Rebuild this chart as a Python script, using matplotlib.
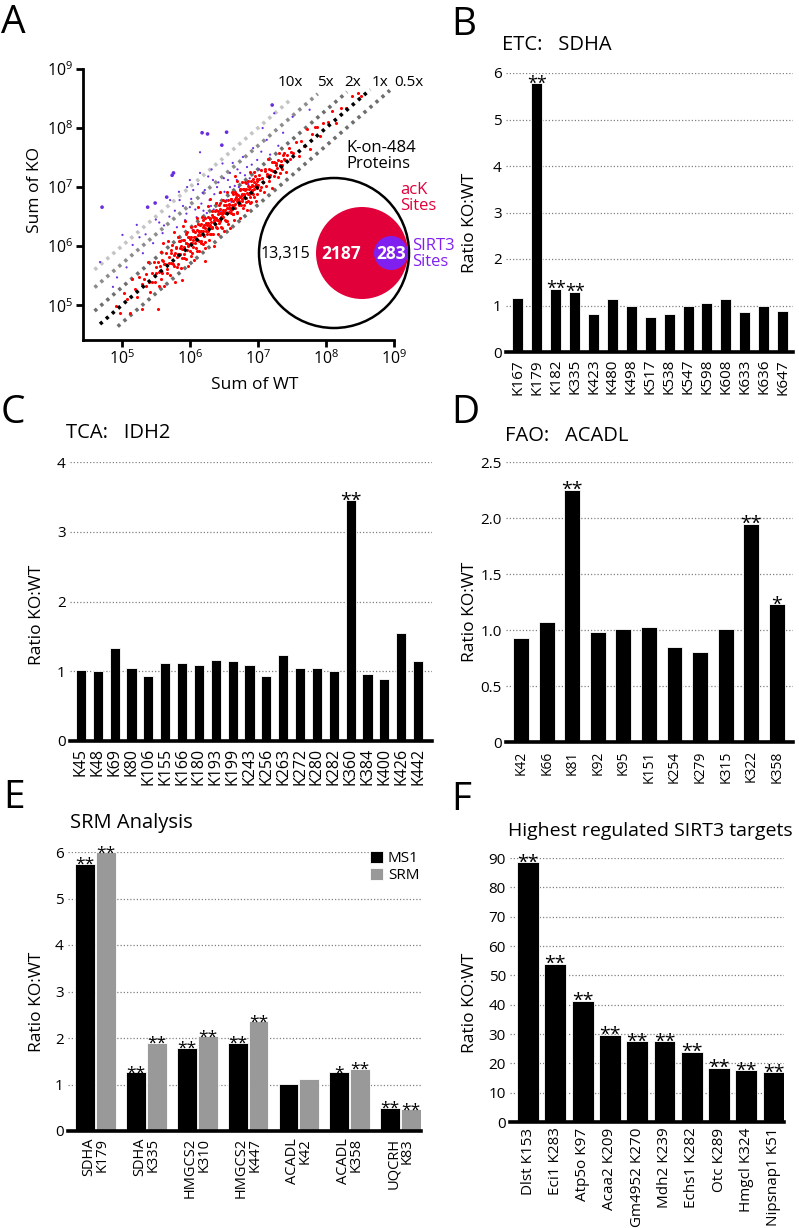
import numpy as np
import matplotlib
matplotlib.use("Agg")
import matplotlib.pyplot as plt
from matplotlib.patches import Circle

plt.rcParams['font.family'] = ['Open Sans', 'DejaVu Sans']
plt.rcParams['mathtext.fontset'] = 'custom'
plt.rcParams['mathtext.rm'] = 'Open Sans'

# ---- panel A: scatter (log10 sum of WT, log10 KO/WT offset) ----
red_pts = [
    (4.92, 0.06), (4.98, -0.12), (5.03, 0.18), (5.08, 0.02), (5.12, -0.25), (5.15, 0.30),
    (5.19, 0.08), (5.22, -0.08), (5.26, 0.22), (5.29, -0.35), (5.32, 0.12), (5.35, -0.02),
    (5.38, 0.35), (5.41, -0.18), (5.44, 0.10), (5.47, 0.26), (5.49, -0.10), (5.53, -0.60),
    (5.51, 0.04), (5.53, 0.20), (5.55, -0.22), (5.56, 0.10), (5.58, 0.32), (5.59, -0.05),
    (5.61, 0.14), (5.62, -0.30), (5.64, 0.06), (5.65, 0.24), (5.67, -0.12), (5.68, 0.40),
    (5.70, 0.02), (5.71, -0.20), (5.72, 0.16), (5.74, 0.28), (5.75, -0.06), (5.77, 0.08),
    (5.78, -0.38), (5.79, 0.20), (5.81, 0.00), (5.82, 0.34), (5.83, -0.14), (5.85, 0.12),
    (5.86, 0.22), (5.87, -0.24), (5.89, 0.06), (5.90, 0.44), (5.91, -0.04), (5.92, 0.18),
    (5.94, -0.16), (5.95, 0.10), (5.96, 0.28), (5.97, -0.30), (5.98, 0.02), (5.99, 0.16),
    (5.93, 0.50), (5.88, -0.45), (5.76, 0.48), (5.60, 0.45),
    (6.00, 0.12), (6.01, -0.18), (6.02, 0.30), (6.03, 0.02), (6.04, -0.06), (6.05, 0.22),
    (6.06, -0.30), (6.07, 0.08), (6.08, 0.16), (6.09, -0.12), (6.10, 0.38), (6.11, 0.00),
    (6.12, 0.26), (6.13, -0.22), (6.14, 0.10), (6.15, 0.04), (6.16, -0.08), (6.17, 0.20),
    (6.18, 0.32), (6.19, -0.15), (6.20, 0.06), (6.21, 0.14), (6.22, -0.26), (6.23, 0.24),
    (6.24, 0.02), (6.25, -0.04), (6.26, 0.42), (6.27, 0.12), (6.28, -0.18), (6.29, 0.18),
    (6.30, 0.06), (6.31, -0.10), (6.32, 0.28), (6.33, 0.00), (6.34, 0.15), (6.35, -0.34),
    (6.36, 0.08), (6.37, 0.22), (6.38, -0.06), (6.39, 0.34), (6.40, 0.04), (6.41, -0.20),
    (6.42, 0.12), (6.43, 0.26), (6.44, -0.02), (6.45, 0.18), (6.46, -0.14), (6.47, 0.08),
    (6.48, 0.30), (6.49, 0.00), (6.50, -0.24), (6.12, 0.55), (6.30, 0.50), (6.22, -0.48),
    (6.44, 0.48),
    (6.51, 0.10), (6.52, 0.24), (6.53, -0.10), (6.54, 0.02), (6.55, 0.36), (6.56, -0.18),
    (6.57, 0.14), (6.58, 0.06), (6.59, -0.28), (6.60, 0.20), (6.61, 0.00), (6.62, 0.30),
    (6.63, -0.08), (6.64, 0.12), (6.65, -0.20), (6.66, 0.26), (6.67, 0.04), (6.68, 0.16),
    (6.69, -0.12), (6.70, 0.40), (6.71, 0.08), (6.72, -0.02), (6.73, 0.22), (6.74, -0.26),
    (6.75, 0.10), (6.76, 0.32), (6.77, 0.00), (6.78, -0.14), (6.79, 0.18), (6.80, 0.06),
    (6.81, 0.28), (6.82, -0.08), (6.83, 0.14), (6.84, -0.22), (6.85, 0.04), (6.86, 0.24),
    (6.87, 0.10), (6.88, -0.04), (6.89, 0.36), (6.90, -0.16), (6.91, 0.12), (6.92, 0.02),
    (6.93, 0.20), (6.94, -0.10), (6.95, 0.30), (6.96, 0.06), (6.97, -0.20), (6.98, 0.16),
    (6.99, 0.00), (6.66, 0.52),
    (7.01, 0.12), (7.03, -0.08), (7.05, 0.24), (7.07, 0.02), (7.09, -0.18), (7.11, 0.16),
    (7.13, 0.06), (7.15, 0.32), (7.17, -0.06), (7.19, 0.10), (7.21, -0.22), (7.23, 0.20),
    (7.25, 0.00), (7.27, 0.14), (7.29, -0.12), (7.31, 0.26), (7.33, 0.04), (7.35, -0.04),
    (7.37, 0.18), (7.39, 0.08), (7.41, -0.16), (7.43, 0.12), (7.45, 0.22), (7.47, 0.00),
    (7.49, 0.10),
    (7.52, 0.06), (7.56, 0.20), (7.60, -0.08), (7.64, 0.14), (7.68, 0.02), (7.72, 0.26),
    (7.76, -0.12), (7.80, 0.10), (7.84, 0.18), (7.87, 0.15), (7.91, -0.04), (7.96, 0.12),
    (8.03, 0.08), (8.09, 0.20), (8.15, -0.06), (8.22, 0.12), (8.30, 0.04), (8.38, 0.16),
    (8.47, 0.13), (8.52, 0.02),
]

# dense core of the acK-site band
red_core = [
    (5.30, 0.06), (5.36, 0.16), (5.40, 0.00), (5.45, -0.06), (5.50, 0.14), (5.54, 0.02),
    (5.57, -0.12), (5.59, 0.18),
    (5.62, 0.08), (5.66, -0.04), (5.69, 0.12), (5.72, 0.00), (5.73, 0.20), (5.76, -0.10),
    (5.78, 0.10), (5.80, 0.16), (5.81, -0.16), (5.83, 0.04), (5.84, 0.24), (5.86, 0.00),
    (5.87, 0.14), (5.88, -0.08), (5.90, 0.20), (5.91, 0.08), (5.92, -0.12), (5.94, 0.12),
    (5.95, 0.26), (5.96, -0.02), (5.97, 0.06), (5.98, 0.18), (6.00, -0.08), (6.01, 0.04),
    (6.02, 0.14), (6.03, -0.14), (6.04, 0.22), (6.05, 0.06), (6.06, 0.10), (6.07, -0.02),
    (6.08, 0.26), (6.09, 0.02), (6.10, -0.18), (6.11, 0.16), (6.12, 0.06), (6.13, 0.12),
    (6.14, -0.06), (6.15, 0.20), (6.16, 0.10), (6.17, -0.12), (6.18, 0.02), (6.19, 0.14),
    (6.20, 0.24), (6.21, -0.04), (6.22, 0.08), (6.23, -0.16), (6.24, 0.16), (6.25, 0.10),
    (6.26, 0.00), (6.27, 0.22), (6.28, 0.04), (6.29, -0.08), (6.30, 0.16), (6.31, 0.10),
    (6.32, -0.02), (6.33, 0.20), (6.34, -0.14), (6.35, 0.06), (6.36, 0.14), (6.37, 0.00),
    (6.38, 0.24), (6.39, 0.08), (6.40, -0.10), (6.41, 0.18), (6.42, 0.02), (6.43, -0.04),
    (6.44, 0.12), (6.45, 0.28), (6.46, 0.04), (6.47, -0.16), (6.48, 0.14), (6.49, 0.08),
    (6.50, 0.20), (6.51, -0.06), (6.52, 0.04), (6.53, 0.16), (6.54, 0.10), (6.55, -0.12),
    (6.56, 0.22), (6.57, 0.00), (6.58, 0.12), (6.59, 0.06), (6.60, -0.04), (6.61, 0.18),
    (6.62, 0.08), (6.63, 0.26), (6.64, -0.10), (6.65, 0.04), (6.66, 0.14), (6.67, -0.02),
    (6.68, 0.20), (6.69, 0.08), (6.70, -0.14), (6.71, 0.16), (6.72, 0.04), (6.73, 0.10),
    (6.74, 0.22), (6.75, -0.06), (6.76, 0.12), (6.77, 0.02), (6.78, 0.18), (6.79, -0.10),
    (6.80, 0.08), (6.81, 0.14), (6.82, 0.00), (6.83, 0.24), (6.84, 0.06), (6.85, -0.08),
    (6.86, 0.16), (6.87, 0.02), (6.88, 0.12), (6.89, -0.16), (6.90, 0.20), (6.91, 0.04),
    (6.92, 0.10), (6.93, -0.04), (6.94, 0.14), (6.95, 0.02), (6.96, 0.22), (6.97, 0.08),
    (6.98, -0.10), (6.99, 0.12), (7.00, 0.04), (7.02, 0.18), (7.04, -0.04), (7.06, 0.10),
    (7.08, 0.00), (7.10, 0.20), (7.12, -0.10), (7.14, 0.08), (7.16, 0.14), (7.18, 0.02),
    (7.20, 0.22), (7.22, 0.06), (7.24, -0.06), (7.26, 0.12), (7.28, 0.04), (7.30, 0.16),
    (7.32, -0.08), (7.34, 0.10), (7.36, 0.02), (7.38, 0.20), (7.40, 0.06),
]

# SIRT3 sites (log10 WT, log10 KO)
purple_pts = [
    (4.71, 6.66), (6.18, 7.92), (6.26, 7.90), (7.21, 8.39), (7.24, 8.25), (6.54, 7.93),
    (6.47, 7.71), (6.15, 7.59), (5.74, 7.20), (5.76, 7.24), (5.66, 6.83), (5.71, 6.78),
    (5.38, 6.66), (5.49, 6.73), (5.22, 6.36), (5.01, 6.19), (5.16, 6.02), (4.68, 5.73),
    (6.78, 7.51), (6.93, 7.66), (7.07, 8.00), (6.69, 7.12), (6.59, 7.00), (6.34, 7.12),
    (6.15, 7.24), (5.96, 7.00), (5.85, 6.78), (6.00, 6.66), (6.10, 6.49), (5.93, 6.44),
    (6.25, 6.56), (6.40, 6.73), (6.54, 6.78), (6.63, 6.90), (6.74, 7.24), (6.84, 7.34),
    (6.99, 7.46), (7.13, 7.80), (7.37, 7.92), (7.51, 8.19), (7.76, 8.31), (5.81, 6.32),
    (5.60, 6.22), (5.46, 6.05), (5.31, 5.88), (5.07, 5.64), (4.93, 5.47), (4.87, 5.31),
    (5.26, 6.15), (6.19, 6.90), (6.29, 6.78), (6.44, 6.90), (6.59, 7.24), (6.63, 7.41),
    (6.04, 6.27), (5.88, 6.10), (6.40, 7.00), (6.72, 7.00), (6.05, 6.95), (6.50, 7.15),
    (6.35, 6.62), (5.70, 6.50), (5.55, 6.40), (6.88, 7.15), (7.02, 7.30), (6.20, 6.60),
    (5.95, 6.55), (6.02, 6.80), (6.08, 6.62), (6.12, 7.05), (6.17, 6.72), (6.22, 6.95),
    (6.27, 7.18), (6.31, 6.68), (6.36, 6.88), (6.42, 7.08), (6.46, 6.58), (6.51, 6.92),
    (6.56, 7.12), (6.61, 6.75), (6.66, 7.02), (6.70, 7.30), (6.76, 6.96), (6.81, 7.20),
    (6.86, 7.05), (6.91, 7.38), (6.96, 7.25), (5.78, 6.60), (5.84, 6.92), (5.90, 6.68),
    (6.00, 7.12), (6.32, 7.30), (6.48, 7.40), (6.58, 6.62), (6.70, 6.88), (7.05, 7.60),
    (7.18, 7.55), (7.30, 7.70), (5.35, 6.20), (5.50, 6.45), (5.62, 6.35),
]
purple_big = [0, 1, 2, 3, 5, 6, 8, 9, 10, 12, 13]

ratio_lines = [10, 5, 2, 1, 0.5]
ratio_names = ['10x', '5x', '2x', '1x', '0.5x']
ratio_wt_range = [(4.60, 7.51), (4.60, 7.88), (4.60, 8.31), (4.68, 8.65), (4.94, 8.94)]
ratio_colors = ['#c4c4c4', '#8c8c8c', '#6e6e6e', '#000000', '#6e6e6e']

venn_counts = ['13,315', '2187', '283']

# ---- bar panels ----
b_sites = ['K167', 'K179', 'K182', 'K335', 'K423', 'K480', 'K498', 'K517', 'K538',
           'K547', 'K598', 'K608', 'K633', 'K636', 'K647']
b_vals = [1.16, 5.78, 1.36, 1.29, 0.81, 1.14, 0.98, 0.75, 0.81, 1.00, 1.06, 1.14, 0.85,
          0.99, 0.89]
b_sig = {1: '**', 2: '**', 3: '**'}

c_sites = ['K45', 'K48', 'K69', 'K80', 'K106', 'K155', 'K166', 'K180', 'K193', 'K199',
           'K243', 'K256', 'K263', 'K272', 'K280', 'K282', 'K360', 'K384', 'K400',
           'K426', 'K442']
c_vals = [1.02, 1.00, 1.34, 1.04, 0.93, 1.12, 1.12, 1.09, 1.16, 1.14, 1.09, 0.93, 1.23,
          1.04, 1.04, 1.00, 3.45, 0.96, 0.89, 1.55, 1.14]
c_sig = {16: '**'}

d_sites = ['K42', 'K66', 'K81', 'K92', 'K95', 'K151', 'K254', 'K279', 'K315', 'K322',
           'K358']
d_vals = [0.93, 1.07, 2.25, 0.985, 1.01, 1.03, 0.85, 0.80, 1.01, 1.95, 1.23]
d_sig = {2: '**', 9: '**', 10: '*'}

e_sites = ['SDHA\nK179', 'SDHA\nK335', 'HMGCS2\nK310', 'HMGCS2\nK447', 'ACADL\nK42',
           'ACADL\nK358', 'UQCRH\nK83']
e_ms1 = [5.75, 1.27, 1.79, 1.90, 1.02, 1.27, 0.50]
e_srm = [6.00, 1.90, 2.04, 2.36, 1.11, 1.34, 0.47]
e_ms1_sig = ['**', '**', '**', '**', '', '*', '**']
e_srm_sig = ['**', '**', '**', '**', '', '**', '**']

f_sites = ['Dlst K153', 'Eci1 K283', 'Atp5o K97', 'Acaa2 K209', 'Gm4952 K270',
           'Mdh2 K239', 'Echs1 K282', 'Otc K289', 'Hmgcl K324', 'Nipsnap1 K51']
f_vals = [88.5, 53.9, 41.4, 29.8, 27.5, 27.5, 23.9, 18.4, 17.6, 16.9]

W, H = 799, 1228
fig = plt.figure(figsize=(W / 100, H / 100), dpi=100)


def box(l, t, r, b):
    return fig.add_axes([l / W, 1 - b / H, (r - l) / W, (b - t) / H])


def ftext(x, y, s, **kw):
    fig.text(x / W, 1 - y / H, s, **kw)


def star(ax, x, y, s, size=14):
    ax.annotate(s, (x, y), xytext=(0, -3.8), textcoords='offset points', ha='center',
                va='baseline', fontsize=size, annotation_clip=False, zorder=5)


def bar_axes(ax, ymax, yticks, ytlabels, xlabels, xsize, xpad):
    ax.set_ylim(0, ymax)
    ax.set_yticks(yticks)
    ax.set_yticklabels(ytlabels, fontsize=11)
    for s in ['left', 'top', 'right']:
        ax.spines[s].set_visible(False)
    ax.spines['bottom'].set_linewidth(2.6)
    ax.tick_params(axis='both', length=0)
    ax.tick_params(axis='y', pad=3)
    ax.tick_params(axis='x', pad=xpad)
    ax.set_xticks(range(len(xlabels)))
    ax.set_xticklabels(xlabels, rotation=90, fontsize=xsize, va='top', ha='center')
    ax.yaxis.grid(True, linestyle=(0, (1, 1.6)), color='#808080', linewidth=0.9)
    ax.set_axisbelow(True)


# ---------------- A ----------------
axA = box(83, 69, 394, 340)
for r, nm, (x0, x1), col in zip(ratio_lines, ratio_names, ratio_wt_range, ratio_colors):
    xs = np.array([x0, x1])
    axA.plot(10 ** xs, 10 ** (xs + np.log10(r)), linestyle=(0, (0.9, 1.3)), color=col,
             linewidth=2.6, zorder=4 if r == 1 else 1, solid_capstyle='butt')
all_red = red_pts + red_core
rw = np.array([p[0] for p in all_red])
rk = rw + np.array([p[1] for p in all_red])
axA.scatter(10 ** rw, 10 ** rk, s=5, color='#ff0000', linewidths=0, zorder=3)
pw = np.array([p[0] for p in purple_pts])
pk = np.array([p[1] for p in purple_pts])
psz = np.array([7.0 if i in purple_big else 2.5 for i in range(len(purple_pts))])
axA.scatter(10 ** pw, 10 ** pk, s=psz, color='#6a2ee0', linewidths=0, zorder=2)
axA.set_xscale('log')
axA.set_yscale('log')
axA.set_xlim(10 ** 4.43, 1e9)
axA.set_ylim(10 ** 4.41, 1e9)
axA.set_xticks([1e5, 1e6, 1e7, 1e8, 1e9])
axA.set_yticks([1e5, 1e6, 1e7, 1e8, 1e9])
axA.set_xticklabels([r'$\mathregular{10^{%d}}$' % k for k in range(5, 10)], fontsize=11.5)
axA.set_yticklabels([r'$\mathregular{10^{%d}}$' % k for k in range(5, 10)], fontsize=11.5)
axA.minorticks_off()
for s in ['top', 'right']:
    axA.spines[s].set_visible(False)
for s in ['left', 'bottom']:
    axA.spines[s].set_linewidth(2.0)
axA.tick_params(direction='out', length=5, width=2.0, pad=2)
ftext(35, 190, 'Sum of KO', fontsize=12.5, rotation=90, ha='center', va='center')
ftext(255, 385, 'Sum of WT', fontsize=12.5, ha='center', va='center')
for nm, x in zip(ratio_names, [290, 325, 353, 380, 409]):
    ftext(x, 83, nm, fontsize=11, ha='center', va='center')

# overlay in pixel units for venn and panel letters
ov = fig.add_axes([0, 0, 1, 1], zorder=10)
ov.set_xlim(0, W)
ov.set_ylim(H, 0)
ov.axis('off')
ov.patch.set_alpha(0)
ov.add_patch(Circle((334, 253), 75, facecolor='white', edgecolor='black', linewidth=1.8))
ov.add_patch(Circle((362, 253), 46, facecolor='#e2003a', edgecolor='none'))
ov.add_patch(Circle((391, 253), 17, facecolor='#8020f0', edgecolor='none'))
ov.text(285, 254, venn_counts[0], fontsize=11.5, ha='center', va='center')
ov.text(341, 254, venn_counts[1], fontsize=12.5, ha='center', va='center', color='white',
        fontweight='bold')
ov.text(391, 254, venn_counts[2], fontsize=12.5, ha='center', va='center', color='white',
        fontweight='bold')
ov.text(346, 156, 'K-on-484\nProteins', fontsize=12, ha='left', va='center',
        linespacing=0.95)
ov.text(400, 198, 'acK\nSites', fontsize=12, ha='left', va='center', color='#e2003a',
        linespacing=0.95)
ov.text(412, 254, 'SIRT3\nSites', fontsize=12, ha='left', va='center', color='#8020f0',
        linespacing=0.95)

for letter, x, y in [('A', 1, 23), ('B', 451, 25), ('C', 1, 413), ('D', 451, 413),
                     ('E', 3, 798), ('F', 451, 800)]:
    ov.text(x, y, letter, fontsize=28, ha='left', va='center')

# ---------------- B ----------------
axB = box(506, 73, 793, 352)
axB.bar(range(len(b_vals)), b_vals, 0.58, color='black', edgecolor='white', linewidth=0.6)
axB.set_xlim(-0.63, 14.55)
bar_axes(axB, 6, range(0, 7), [str(k) for k in range(7)], b_sites, 11, 5)
for i, s in b_sig.items():
    star(axB, i, b_vals[i], s, 13)
ftext(502, 45, 'ETC:   SDHA', fontsize=14.5, ha='left', va='center')
ftext(470, 223, 'Ratio KO:WT', fontsize=12.5, rotation=90, ha='center', va='center')

# ---------------- C ----------------
axC = box(70, 462, 432, 741)
axC.bar(range(len(c_vals)), c_vals, 0.6, color='black', edgecolor='white', linewidth=0.6)
axC.set_xlim(-0.65, 20.83)
bar_axes(axC, 4, range(0, 5), [str(k) for k in range(5)], c_sites, 11.5, 5)
for i, s in c_sig.items():
    star(axC, i, c_vals[i], s)
ftext(66, 433, 'TCA:   IDH2', fontsize=14.5, ha='left', va='center')
ftext(37, 615, 'Ratio KO:WT', fontsize=12.5, rotation=90, ha='center', va='center')

# ---------------- D ----------------
axD = box(506, 462, 793, 742)
axD.bar(range(len(d_vals)), d_vals, 0.62, color='black', edgecolor='white', linewidth=0.6)
axD.set_xlim(-0.59, 10.63)
bar_axes(axD, 2.5, [0, 0.5, 1.0, 1.5, 2.0, 2.5], ['0', '0.5', '1.0', '1.5', '2.0', '2.5'],
         d_sites, 10, 6)
for i, s in d_sig.items():
    star(axD, i, d_vals[i], s)
ftext(505, 436, 'FAO:   ACADL', fontsize=14.5, ha='left', va='center')
ftext(470, 612, 'Ratio KO:WT', fontsize=12.5, rotation=90, ha='center', va='center')

# ---------------- E ----------------
axE = box(68, 852, 421, 1131)
xe = np.arange(len(e_sites))
axE.bar(xe - 0.205, e_ms1, 0.39, color='black', edgecolor='white', linewidth=0.6,
        label='MS1')
axE.bar(xe + 0.205, e_srm, 0.39, color='#999999', edgecolor='white', linewidth=0.6,
        label='SRM')
axE.set_xlim(-0.54, 6.4)
bar_axes(axE, 6, range(0, 7), [str(k) for k in range(7)], e_sites, 10.5, 5)
for lab in axE.get_xticklabels():
    lab.set_multialignment('right')
    lab.set_linespacing(0.85)
for i in range(len(e_sites)):
    if e_ms1_sig[i]:
        star(axE, i - 0.205, e_ms1[i], e_ms1_sig[i], 12.5)
    if e_srm_sig[i]:
        star(axE, i + 0.205, e_srm[i], e_srm_sig[i], 12.5)
leg = axE.legend(loc='upper right', bbox_to_anchor=(1.0, 1.01), frameon=True, fontsize=11,
                 handlelength=0.85, handleheight=0.85, handletextpad=0.3, borderpad=0.1,
                 labelspacing=0.1, borderaxespad=0)
leg.get_frame().set_edgecolor('none')
leg.get_frame().set_facecolor('white')
leg.get_frame().set_alpha(1)
ftext(70, 823, 'SRM Analysis', fontsize=14.5, ha='left', va='center')
ftext(37, 1002, 'Ratio KO:WT', fontsize=12.5, rotation=90, ha='center', va='center')

# ---------------- F ----------------
axF = box(510, 858, 784, 1122)
axF.bar(range(len(f_vals)), f_vals, 0.8, color='black', edgecolor='white', linewidth=0.6)
axF.set_xlim(-0.66, 9.38)
bar_axes(axF, 90, range(0, 100, 10), [str(k) for k in range(0, 100, 10)], f_sites, 11, 4)
for i in range(len(f_vals)):
    star(axF, i, f_vals[i], '**')
ftext(508, 831, 'Highest regulated SIRT3 targets', fontsize=14, ha='left', va='center')
ftext(470, 1003, 'Ratio KO:WT', fontsize=12.5, rotation=90, ha='center', va='center')

fig.savefig('out.png', dpi=100)
